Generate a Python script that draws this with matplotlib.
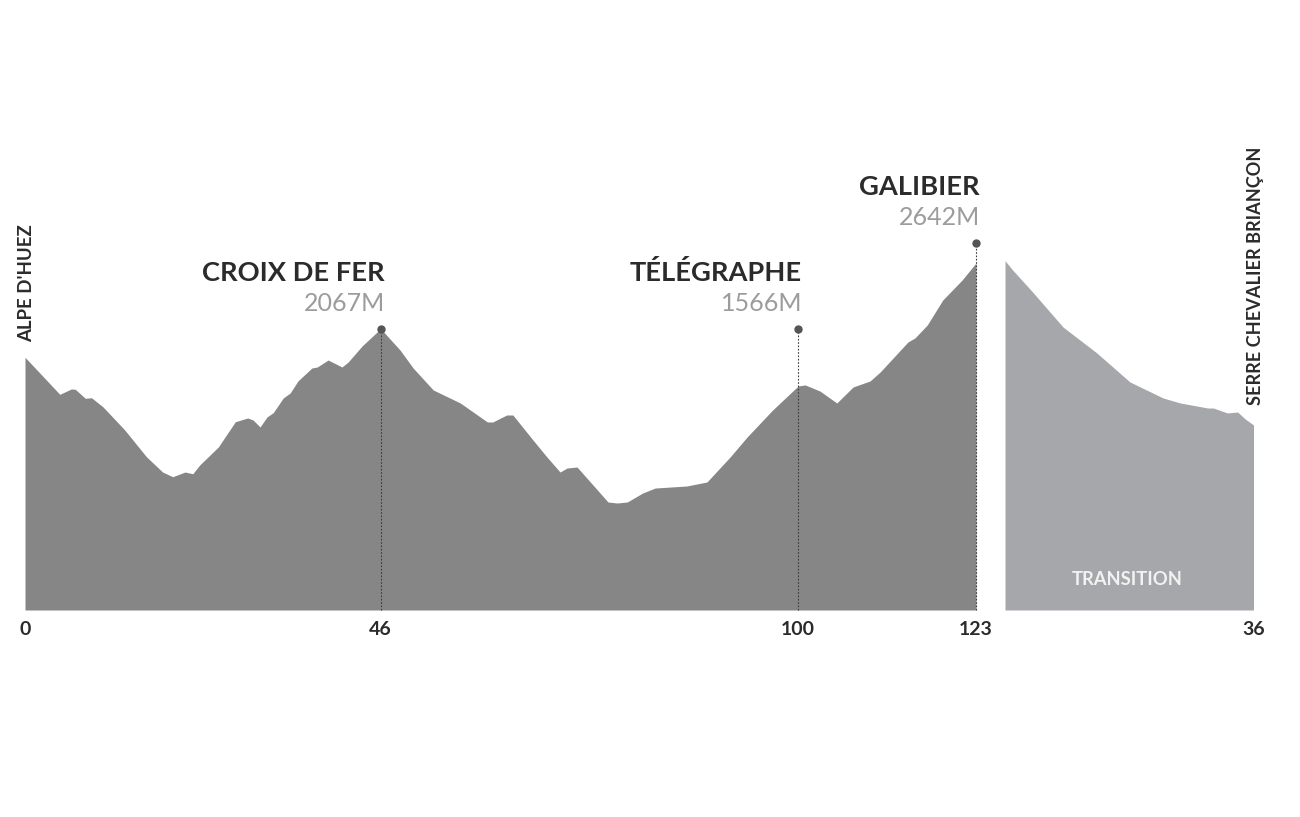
import matplotlib
matplotlib.use('Agg')
import matplotlib.pyplot as plt

plt.rcParams['font.family'] = ['Lato', 'DejaVu Sans']

# stage profile, km from Alpe d'Huez / elevation in m
STAGE_KM = [0, 4.5, 6.0, 6.5, 7.8, 8.6, 10.1, 12.9, 15.7, 17.8, 19.1, 20.7, 21.7, 22.6,
            25.0, 27.2, 28.8, 29.5, 30.4, 31.3, 32.1, 33.4, 34.3, 35.3, 37.1, 37.8, 39.2,
            41.0, 41.8, 43.6, 46, 48.5, 50.2, 52.8, 56.3, 59.8, 60.5, 62.3, 63.1, 65.7,
            67.5, 69.2, 70.1, 71.4, 75.4, 76.6, 77.9, 79.9, 81.5, 85.6, 88.2, 91.2, 93.4,
            96.7, 100, 100.9, 102.8, 105.0, 107.1, 109.3, 110.6, 114.2, 115.1, 116.7,
            118.7, 121.2, 123]
STAGE_ELEV = [1817, 1493, 1540, 1537, 1458, 1463, 1382, 1181, 947, 813, 772, 813, 798, 875,
              1032, 1253, 1286, 1268, 1207, 1295, 1332, 1461, 1505, 1610, 1723, 1732, 1793,
              1732, 1776, 1916, 2067, 1881, 1723, 1531, 1417, 1251, 1251, 1312, 1312, 1093,
              945, 813, 848, 857, 551, 542, 551, 630, 673, 691, 726, 945, 1120,
              1356, 1566, 1575, 1522, 1417, 1557, 1610, 1688, 1951, 1986, 2100,
              2318, 2493, 2642]

# neutral transition to Briancon
TRANS_KM = [0, 1.1, 4.0, 8.4, 13.3, 18.1, 22.9, 25.4, 29.4, 30.2, 32.2, 33.7, 34.8, 36]
TRANS_ELEV = [2662, 2581, 2388, 2082, 1855, 1601, 1461, 1417, 1373, 1373, 1330, 1338, 1277, 1225]

CLIMB_NAMES = ['CROIX DE FER', 'TÉLÉGRAPHE', 'GALIBIER']
CLIMB_HEIGHTS = ['2067M', '1566M', '2642M']
CLIMB_KM = [46, 100, 123]
CLIMB_DOT = [2067, 2067, 2817]

STAGE_TICKS = [0, 46, 100, 123]
TRANS_TICKS = [36]

W, H = 1300, 817
DARK = '#868686'
LIGHT = '#a6a7aa'
INK = '#2b2b2b'
BASE = -394
TOP = 3718


def px(n):
    # figure pixels to points
    return n * 72.0 / 100


def make_axes(fig, left, right, xmax):
    ax = fig.add_axes([left / W, 1 - 610 / H, (right - left) / W, 470 / H])
    ax.set_xlim(0, xmax)
    ax.set_ylim(BASE, TOP)
    ax.patch.set_alpha(0)
    for s in ax.spines.values():
        s.set_visible(False)
    ax.set_yticks([])
    ax.tick_params(axis='x', length=0, pad=px(11), labelsize=14, labelcolor=INK)
    return ax


fig = plt.figure(figsize=(W / 100, H / 100), dpi=100)
ax = make_axes(fig, 25, 976, 123)
ax2 = make_axes(fig, 1005, 1253.5, 36)

ax.fill_between(STAGE_KM, STAGE_ELEV, BASE, color=DARK, lw=0)
ax2.fill_between(TRANS_KM, TRANS_ELEV, BASE, color=LIGHT, lw=0)

ax.set_xticks(STAGE_TICKS, [str(t) for t in STAGE_TICKS], fontweight='bold')
ax2.set_xticks(TRANS_TICKS, [str(t) for t in TRANS_TICKS], fontweight='bold')

for name, height, km, dot in zip(CLIMB_NAMES, CLIMB_HEIGHTS, CLIMB_KM, CLIMB_DOT):
    ax.vlines(km, BASE, dot, color='#3c3c3c', lw=0.8, linestyles=(0, (1.5, 1.5)), clip_on=False)
    ax.plot([km], [dot], 'o', color='#555555', ms=5, clip_on=False)
    ax.annotate(name, (km, dot), xytext=(px(4), px(48)), textcoords='offset points',
                ha='right', va='baseline', fontsize=19.6, fontweight='bold', color=INK)
    ax.annotate(height, (km, dot), xytext=(px(4), px(18)), textcoords='offset points',
                ha='right', va='baseline', fontsize=18, fontweight='normal', color='#9c9c9c')

ax.annotate("ALPE D'HUEZ", (0, STAGE_ELEV[0]), xytext=(px(2), px(15)), textcoords='offset points',
            rotation=90, ha='center', va='bottom', fontsize=13.4, fontweight='bold', color=INK)
ax2.annotate('SERRE CHEVALIER BRIANÇON', (36, TRANS_ELEV[-1]), xytext=(px(2.5), px(20)),
             textcoords='offset points', rotation=90, ha='center', va='bottom',
             fontsize=13.1, fontweight='bold', color=INK)
ax2.text(0.49, 0.065, 'TRANSITION', transform=ax2.transAxes, ha='center', va='center',
         fontsize=13.2, fontweight='bold', color='#f2f2f2')

fig.savefig('out.png', dpi=100, facecolor='white')
